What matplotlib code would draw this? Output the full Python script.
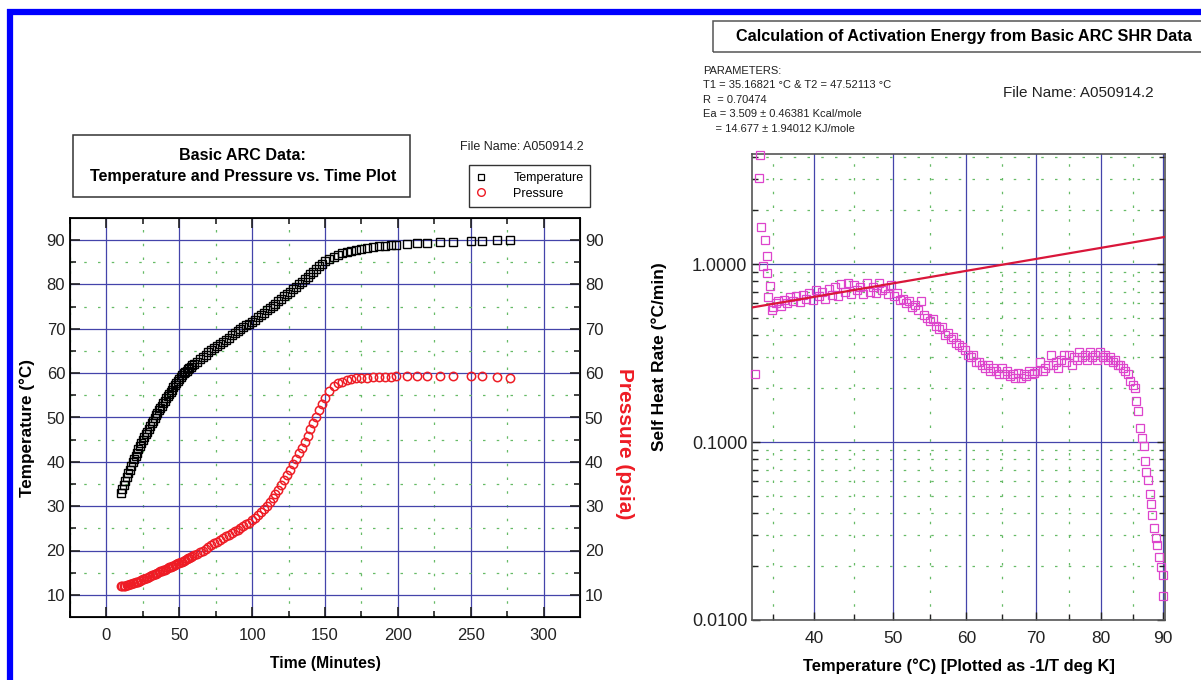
import numpy as np
import matplotlib
matplotlib.use('Agg')
import matplotlib.pyplot as plt
from matplotlib.patches import Rectangle
from matplotlib.lines import Line2D
from matplotlib.ticker import FixedLocator, FuncFormatter, LogLocator, NullFormatter

plt.rcParams['font.family'] = ['Liberation Sans', 'DejaVu Sans']

# ---- left panel: basic ARC data ----
time_min = [10, 11, 12, 13, 14, 15, 16, 17, 18, 19, 20, 21, 22, 23, 24, 25, 26, 27, 28, 29,
            30, 31, 32, 33, 34, 35, 36, 37, 38, 39, 40, 41, 42, 43, 44, 45, 46, 47, 48, 49,
            50, 51, 52, 53, 54, 55, 56, 57, 58, 59, 60, 62, 64, 66, 68, 70, 72, 74, 76, 78,
            80, 82, 84, 86, 88, 90, 92, 94, 96, 98, 100, 102, 104, 106, 108, 110, 112, 114, 116, 118,
            120, 122, 124, 126, 128, 130, 132, 134, 136, 138, 140, 142, 144, 146, 148, 150, 153, 156, 159, 162,
            165, 168, 171, 175, 179, 183, 187, 191, 195, 199, 206, 213, 220, 229, 238, 250, 258, 268, 277]
temperature = [33.0, 33.9, 34.8, 35.7, 36.5, 37.4, 38.2, 39.1, 40.0, 40.7, 41.4, 42.1, 42.8, 43.5, 44.2, 44.9, 45.5, 46.2, 46.8, 47.4,
               48.0, 48.7, 49.3, 49.9, 50.5, 51.1, 51.6, 52.2, 52.7, 53.3, 53.8, 54.3, 54.8, 55.3, 55.8, 56.3, 56.8, 57.3, 57.7, 58.2,
               58.6, 59.1, 59.6, 60.0, 60.3, 60.6, 60.9, 61.2, 61.5, 61.8, 62.0, 62.6, 63.1, 63.7, 64.2, 64.8, 65.2, 65.7, 66.1, 66.6,
               67.0, 67.5, 68.0, 68.5, 69.0, 69.5, 70.0, 70.5, 70.8, 71.2, 71.6, 72.1, 72.6, 73.1, 73.6, 74.2, 74.7, 75.2, 75.7, 76.3,
               76.8, 77.3, 77.9, 78.4, 79.0, 79.5, 80.0, 80.6, 81.2, 81.7, 82.3, 82.9, 83.5, 84.1, 84.7, 85.2, 85.8, 86.3, 86.7, 87.0,
               87.3, 87.6, 87.8, 88.0, 88.2, 88.4, 88.6, 88.7, 88.8, 88.9, 89.1, 89.3, 89.4, 89.5, 89.6, 89.8, 89.9, 90.0, 90.0]
pressure = [12.0, 12.0, 12.1, 12.1, 12.2, 12.3, 12.4, 12.5, 12.6, 12.7, 12.8, 12.9, 13.0, 13.2, 13.3, 13.5, 13.6, 13.8, 13.9, 14.1,
            14.2, 14.4, 14.5, 14.7, 14.8, 15.0, 15.1, 15.3, 15.4, 15.6, 15.7, 15.9, 16.0, 16.2, 16.3, 16.5, 16.6, 16.8, 16.9, 17.1,
            17.2, 17.4, 17.5, 17.7, 17.8, 18.0, 18.2, 18.3, 18.5, 18.7, 18.9, 19.2, 19.6, 20.0, 20.4, 20.8, 21.2, 21.6, 22.0, 22.4,
            22.8, 23.2, 23.6, 24.0, 24.3, 24.7, 25.1, 25.5, 25.9, 26.3, 26.8, 27.4, 28.0, 28.7, 29.4, 30.1, 30.9, 31.8, 32.7, 33.7,
            34.7, 35.8, 37.0, 38.2, 39.4, 40.6, 41.9, 43.2, 44.5, 45.9, 47.3, 48.7, 50.1, 51.6, 53.1, 54.5, 56.0, 57.0, 57.7, 58.1,
            58.4, 58.6, 58.8, 58.9, 59.0, 59.1, 59.1, 59.2, 59.2, 59.3, 59.3, 59.4, 59.4, 59.4, 59.4, 59.3, 59.3, 59.1, 59.0]

# ---- right panel: self heat rate ----
shr_temp = [32.9, 33.4, 33.3, 33.6, 34.0, 34.3, 33.8, 34.3, 34.6, 34.4, 34.9,
            35.0, 35.3, 35.6, 36.0, 36.3, 36.7, 37.0, 37.4, 37.8, 38.2, 38.6, 39.0, 39.4, 39.8,
            40.2, 40.6, 41.0, 41.4, 41.8, 42.2, 42.6, 43.0, 43.4, 43.8, 44.2, 44.6, 45.0, 45.4,
            45.8, 46.2, 46.6, 47.0, 47.4, 47.8, 48.2, 48.6, 49.0, 49.4, 49.8, 50.2, 50.6, 51.0,
            51.4, 51.8, 52.2, 52.6, 53.0, 53.4, 53.8, 54.2, 54.6, 55.0, 55.4, 55.8, 56.2, 56.6,
            57.0, 57.4, 57.8, 58.2, 58.6, 59.0, 59.4, 59.8, 60.2, 60.6, 61.0, 61.4, 61.8, 62.2,
            62.6, 63.0, 63.4, 63.8, 64.2, 64.6, 65.0, 65.4, 65.8, 66.2, 66.6, 67.0, 67.4, 67.8,
            68.2, 68.6, 69.0, 69.4, 69.8, 70.2, 70.6, 71.0, 71.4, 71.8, 72.2, 72.6, 73.0, 73.4,
            73.8, 74.2, 74.6, 75.0, 75.4, 75.8, 76.2, 76.6, 77.0, 77.4, 77.8, 78.2, 78.6, 79.0,
            79.4, 79.8, 80.2, 80.6, 81.0, 81.4, 81.8, 82.2, 82.6, 83.0, 83.4, 83.8, 84.2, 84.6,
            85.0, 85.3, 85.6, 85.9, 86.2, 86.5, 86.8, 87.0, 87.2, 87.5, 87.8, 88.0, 88.2, 88.5,
            88.8, 89.0, 89.3, 89.6, 89.9, 90.0]
shr_rate = [0.24, 4.1, 3.05, 1.62, 1.37, 1.11, 0.97, 0.89, 0.755, 0.655, 0.55,
            0.57, 0.60, 0.62, 0.58, 0.63, 0.60, 0.65, 0.62, 0.66, 0.61, 0.67, 0.64, 0.69, 0.63,
            0.71, 0.66, 0.70, 0.64, 0.72, 0.67, 0.74, 0.66, 0.77, 0.70, 0.78, 0.68, 0.76, 0.71,
            0.74, 0.68, 0.78, 0.70, 0.74, 0.69, 0.78, 0.71, 0.73, 0.68, 0.76, 0.66, 0.69, 0.63,
            0.64, 0.60, 0.62, 0.57, 0.59, 0.55, 0.62, 0.52, 0.50, 0.48, 0.49, 0.45, 0.43, 0.44,
            0.40, 0.41, 0.38, 0.39, 0.36, 0.35, 0.34, 0.33, 0.31, 0.30, 0.31, 0.28, 0.28, 0.27,
            0.26, 0.27, 0.25, 0.26, 0.25, 0.24, 0.26, 0.24, 0.25, 0.235, 0.24, 0.23, 0.245, 0.23,
            0.24, 0.235, 0.25, 0.24, 0.245, 0.25, 0.28, 0.25, 0.26, 0.27, 0.31, 0.27, 0.28, 0.26,
            0.29, 0.31, 0.28, 0.31, 0.27, 0.30, 0.29, 0.32, 0.30, 0.31, 0.29, 0.32, 0.30, 0.31,
            0.29, 0.32, 0.30, 0.31, 0.29, 0.30, 0.28, 0.29, 0.27, 0.27, 0.26, 0.25, 0.24, 0.22,
            0.21, 0.20, 0.17, 0.15, 0.12, 0.105, 0.095, 0.078, 0.068, 0.061, 0.051, 0.045, 0.039, 0.033,
            0.029, 0.0265, 0.0225, 0.0198, 0.018, 0.0137]
fit_temp = [32.5, 90.3]
fit_rate = [0.57, 1.42]

W, H = 1201, 680
def fx(x):
    return x / W
def fy(y):
    return 1 - y / H

fig = plt.figure(figsize=(12.01, 6.8), dpi=100)
fig.patch.set_facecolor('white')

major_c = '#4444aa'
minor_c = '#66bb66'
tick_c = '#222222'
red = '#ee1c25'

# ---------------- left plot ----------------
ax = fig.add_axes([fx(70), fy(617), fx(510), 399 / H])
ax.plot(time_min, temperature, ls='none', marker='s', ms=5.5, mfc='none', mec='black', mew=1.0)
ax.plot(time_min, pressure, ls='none', marker='o', ms=6, mfc='none', mec=red, mew=1.1)
ax.set_xlim(-25, 325)
ax.set_ylim(5, 95)
ax.xaxis.set_major_locator(FixedLocator([0, 50, 100, 150, 200, 250, 300]))
ax.xaxis.set_minor_locator(FixedLocator([-25, 25, 75, 125, 175, 225, 275]))
ax.yaxis.set_major_locator(FixedLocator(range(10, 100, 10)))
ax.yaxis.set_minor_locator(FixedLocator(range(15, 95, 10)))
ax.grid(True, which='major', color=major_c, lw=0.9)
ax.grid(True, which='minor', color=minor_c, lw=0.9, ls=(0, (2, 9)))
ax.tick_params(which='both', direction='in', top=True, right=False, labelsize=12, colors=tick_c)
ax.tick_params(which='major', length=7, width=1.2)
ax.tick_params(which='minor', length=4, width=1.2)
ax.tick_params(axis='x', pad=8)
for s in ax.spines.values():
    s.set_linewidth(1.3)
ax.set_xlabel('Time (Minutes)', fontsize=11.3, fontweight='bold', labelpad=9)
ax.set_ylabel('Temperature (°C)', fontsize=12.3, fontweight='bold')
ax.yaxis.set_label_coords(-0.068, 0.474)

ax2 = ax.twinx()
ax2.set_ylim(5, 95)
ax2.yaxis.set_major_locator(FixedLocator(range(10, 100, 10)))
ax2.yaxis.set_minor_locator(FixedLocator(range(15, 95, 10)))
ax2.tick_params(which='both', direction='in', labelsize=12, colors=tick_c)
ax2.tick_params(which='major', length=7, width=1.2)
ax2.tick_params(which='minor', length=4, width=1.2)
ax2.set_ylabel('Pressure (psia)', fontsize=15, fontweight='bold', color=red, rotation=270, va='bottom')
ax2.yaxis.set_label_coords(1.068, 0.434)

# title box and file name
fig.add_artist(Rectangle((fx(73), fy(197)), fx(337), 62 / H, transform=fig.transFigure,
                         fill=False, ec='#333333', lw=1.1))
fig.text(fx(242), fy(155), 'Basic ARC Data:', ha='center', va='center', fontsize=11.6, fontweight='bold')
fig.text(fx(243), fy(177), 'Temperature and Pressure vs. Time Plot', ha='center', va='center',
         fontsize=11.6, fontweight='bold')
fig.text(fx(460), fy(147), 'File Name: A050914.2', ha='left', va='center', fontsize=9, color='#222222')

handles = [Line2D([], [], ls='none', marker='s', ms=5, mfc='none', mec='black', mew=0.9),
           Line2D([], [], ls='none', marker='o', ms=5.5, mfc='none', mec=red, mew=1.0)]
leg = fig.legend(handles, ['Temperature', 'Pressure'], loc='upper left',
                 bbox_to_anchor=(fx(469), fy(165)), fontsize=9, frameon=True, fancybox=False,
                 edgecolor='#333333', framealpha=1, handlelength=0.8, handletextpad=2.2,
                 borderpad=0.55, labelspacing=0.3, borderaxespad=0)
leg.get_frame().set_linewidth(1.0)

# ---------------- right plot ----------------
def fwd(t):
    t = np.asarray(t, dtype=float)
    return -1.0 / (t + 273.15)

def inv(v):
    v = np.asarray(v, dtype=float)
    with np.errstate(divide='ignore'):
        return -1.0 / v - 273.15

bx = fig.add_axes([fx(752), fy(620), fx(413), 466 / H])
bx.set_xscale('function', functions=(fwd, inv))
bx.set_yscale('log')
bx.plot(shr_temp, shr_rate, ls='none', marker='s', ms=5.8, mfc='none', mec='#dd44cc', mew=0.9,
        clip_on=False, zorder=3)
bx.plot(fit_temp, fit_rate, color='#d9163a', lw=1.6, zorder=4)
bx.set_xlim(32.5, 90.3)
bx.set_ylim(0.01, 4.15)
bx.xaxis.set_major_locator(FixedLocator([40, 50, 60, 70, 80, 90]))
bx.xaxis.set_minor_locator(FixedLocator([35, 45, 55, 65, 75, 85]))
bx.xaxis.set_major_formatter(FuncFormatter(lambda v, p: '%d' % round(v)))
bx.xaxis.set_minor_formatter(NullFormatter())
bx.yaxis.set_major_locator(FixedLocator([0.01, 0.1, 1.0]))
bx.yaxis.set_minor_locator(LogLocator(base=10, subs=np.arange(2, 10)))
bx.yaxis.set_major_formatter(FuncFormatter(lambda v, p: '%.4f' % v))
bx.yaxis.set_minor_formatter(NullFormatter())
bx.grid(True, which='major', color=major_c, lw=0.9)
bx.grid(True, which='minor', color=minor_c, lw=0.9, ls=(0, (2, 9)))
bx.tick_params(which='both', direction='in', right=True, colors=tick_c)
bx.tick_params(axis='x', labelsize=12.5, pad=8)
bx.tick_params(axis='y', labelsize=13)
bx.tick_params(which='major', length=6, width=1.0)
bx.tick_params(which='minor', length=4, width=1.0)
for s in bx.spines.values():
    s.set_color('#555555')
    s.set_linewidth(1.2)
bx.set_xlabel('Temperature (°C) [Plotted as -1/T deg K]', fontsize=11.9, fontweight='bold', labelpad=9)
bx.set_ylabel('Self Heat Rate (°C/min)', fontsize=12.5, fontweight='bold')
bx.yaxis.set_label_coords(-0.206, 0.565)

fig.add_artist(Rectangle((fx(713), fy(52)), fx(520), 31 / H, transform=fig.transFigure,
                         fill=False, ec='#555555', lw=1.1))
fig.text(fx(964), fy(36), 'Calculation of Activation Energy from Basic ARC SHR Data',
         ha='center', va='center', fontsize=11.7, fontweight='bold')
params = ('PARAMETERS:\n'
          'T1 = 35.16821 °C & T2 = 47.52113 °C\n'
          'R  = 0.70474\n'
          'Ea = 3.509 ± 0.46381 Kcal/mole\n'
          '    = 14.677 ± 1.94012 KJ/mole')
fig.text(fx(703), fy(66), params, ha='left', va='top', fontsize=8, linespacing=1.55, color='#222222')
fig.text(fx(1003), fy(93), 'File Name: A050914.2', ha='left', va='center', fontsize=11, color='#222222')

# blue frame (top and left edges)
fig.add_artist(Line2D([fx(7), 1.0], [fy(11.5), fy(11.5)], transform=fig.transFigure,
                      color='#0000ff', lw=4.5, solid_capstyle='butt'))
fig.add_artist(Line2D([fx(9.5), fx(9.5)], [fy(9), 0.0], transform=fig.transFigure,
                      color='#0000ff', lw=4.5, solid_capstyle='butt'))

fig.savefig('out.png', dpi=100)
